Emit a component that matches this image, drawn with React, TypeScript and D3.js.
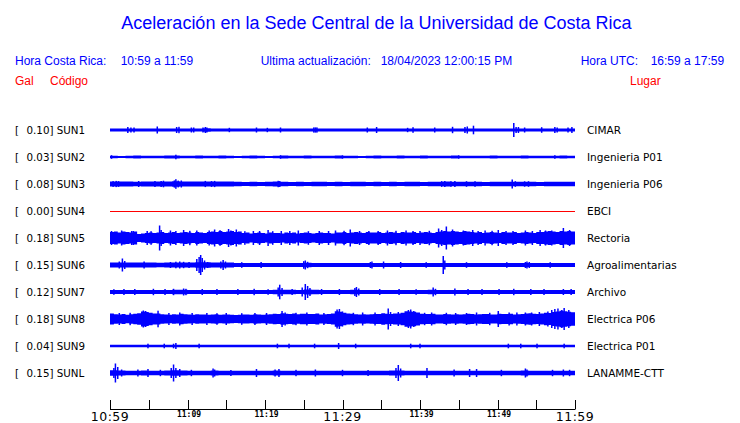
import React from "react";
import * as d3 from "d3";

const stations = ["SUN1", "SUN2", "SUN3", "SUN4", "SUN5", "SUN6", "SUN7", "SUN8", "SUN9", "SUNL"];
const places = ["CIMAR", "Ingenieria P01", "Ingenieria P06", "EBCI", "Rectoria", "Agroalimentarias", "Archivo", "Electrica P06", "Electrica P01", "LANAMME-CTT"];
const peakGal = ["0.10", "0.03", "0.08", "0.00", "0.18", "0.15", "0.12", "0.18", "0.04", "0.15"];
const traceColors = ["#0000ff", "#0000ff", "#0000ff", "#ff0000", "#0000ff", "#0000ff", "#0000ff", "#0000ff", "#0000ff", "#0000ff"];
const tickLabels = ["10:59", "11:09", "11:19", "11:29", "11:39", "11:49", "11:59"];
const bigLabel = [true, false, false, true, false, false, true];

// envelope (half amplitude) over the hour, relative units (evenly spaced samples)
const env1 = [1.5,1.5,1.6,1.5,1.5,1.5,1.6,1.5,1.5,1.5,1.5,1.5,1.7,1.5,1.5,1.5,1.5,1.5,1.5,1.5,1.5,1.5,1.5,1.5,1.5,1.5,1.6,1.5,1.5,1.5,1.5,1.5,1.5,1.5,1.5,1.5,1.5,1.5,1.5,1.5,1.5,1.5,1.5,1.5,1.5,1.5,1.5,1.5,1.5,1.5,1.5,1.5,1.5,1.5,1.5,1.5,1.5,1.5,1.5,1.5];
const env2 = [1.3,1.1,1.3,1.4,1.2,1.3,1.3,1.4,1.5,1.3,1.2,1.4,1.3,1.2,1.4,1.3,0.9,1.2,1.4,1.3,1.1,1.3,1.4,1.3,1.2,1.4,1.3,1.3,1.2,1.4,1.3,1.2,1.1,1.3,1.4,1.3,1.2,1.4,1.3,1.3,1.4,1.3,1.2,1.3,1.4,1.3,1.2,1.3,1.3,1.4,1.3,1.3,1.2,1.4,1.3,1.3,1.2,1.3,1.4,1.3];
const env3 = [2.6,2.4,2.5,2.3,2.5,2.4,2.6,2.5,2.7,2.6,2.4,2.5,2.6,2.6,2.4,2.5,2.2,2.1,2.2,2.1,2.2,2.4,2.2,2.1,2.2,2.1,2.2,2.2,2.1,2.2,2.1,2.2,2.2,2.1,2.2,2.1,2.2,2.1,2.2,2.2,2.1,2.2,2.3,2.4,2.3,2.2,2.3,2.2,2.1,2.2,2.2,2.3,2.2,2.3,2.2,2.1,2.2,2.2,2.3,2.2];
const env4 = [0,0,0,0,0,0,0,0,0,0,0,0,0,0,0,0,0,0,0,0,0,0,0,0,0,0,0,0,0,0,0,0,0,0,0,0,0,0,0,0,0,0,0,0,0,0,0,0,0,0,0,0,0,0,0,0,0,0,0,0];
const env5 = [6,6.5,5.5,6.5,6,5.5,6.5,4,4.5,5,5.5,5,5.5,6,5,5.5,6,5,5.5,6,5.5,5,6,5.5,5,6,6.5,6,7,6,6.5,7,6,6.5,5,5.5,4.5,5,5.5,5,4.5,5.5,5,5,4.5,5.5,5,5.5,4.5,5,5.5,5,4.5,5,5.5,5,5,4.5,5.5,5.5,6,5,5.5,6,5.5,5,6,5.5,5.5,6,5,5.5,6,5.5,5,6,5.5,5.5,6,5,5.5,6,5.5,5,6,6.5,7,6.5,7,6.5,6,7,6.5,6,5.5,6,5,5.5,6,5.5,5,6,5.5,5.5,6,5,5.5,6,5.5,5,6,6,6.5,7,6.5,6,7,6.5,7,6.5];
const env6 = [2.4,2.6,2.4,2.5,2.4,2.4,2.3,2.4,2.5,2.6,2.5,2.7,2.8,2.5,2.4,2.5,2.1,2,2,2,2,2,2,2,2,2.2,2,2,2,2,2,2,2,2.1,2.1,2,2,2,2,2,2,2,2,2.1,2,2,2,2,2,2,2,2,2,2.1,2,2,2,2,2,2];
const env7 = [2,2,2,2,2,2,2,2,2.2,2.3,2.1,2,2,2,2,2,2,2,2,2,2,2.2,2.3,2.2,2.1,2.5,2.2,2.1,2,2,2,2.2,2,2,2,2,2,2,2,2,2,2.2,2,2,2.1,2,2,2,2,2,2,2,2,2,2,2,2,2,2,2];
const env8 = [5.5,4.8,4.5,5,4.2,4.8,5.3,5.8,7.5,7,6.3,5.5,5.5,4.8,4.5,4.2,4.8,4.4,5.2,4.8,4.5,4.3,4.7,4.4,4.6,4.2,4.5,4.8,4.3,4.6,4.5,4.2,4,4.3,4.6,4.4,4.2,4.7,4.5,4.3,4.4,4.8,5.2,5,5.8,5.3,5,5.4,4.8,5.2,5.3,4.9,5,5.4,4.5,4.8,5,5.6,7.8,7.2,6.2,5.5,5.2,4.8,4.5,4.7,4.4,4.8,5.1,4.9,5.8,5.3,5,5.4,5.6,6.2,7.8,7.4,7.2,6.5,5.2,4.9,5,5.3,4.6,4.4,5.1,4.8,4.5,4.8,4.4,4.7,5.2,4.9,4.5,4.8,5.1,5,4.6,4.4,5.2,5,4.9,5.3,4.5,4.7,5.1,5.4,5.7,5.3,5,5.4,6.2,6,7,7.4,8.2,7.8,7.2,6.8];
const env9 = [1.3,1.3,1.3,1.3,1.3,1.3,1.3,1.3,1.3,1.3,1.3,1.3,1.3,1.3,1.3,1.3,1.3,1.3,1.3,1.3,1.3,1.3,1.3,1.3,1.3,1.3,1.3,1.3,1.3,1.3,1.3,1.3,1.3,1.3,1.3,1.3,1.3,1.3,1.3,1.3,1.3,1.3,1.3,1.3,1.3,1.3,1.3,1.3,1.3,1.3,1.3,1.3,1.3,1.3,1.3,1.3,1.3,1.3,1.3,1.3];
const envL = [2.8,2.5,2.3,2.3,2.4,2.3,2.3,2.4,2.8,2.4,2.3,2.3,2.3,2.4,2.3,2.3,2.3,2.3,2.3,2.3,2.3,2.4,2.3,2.3,2.3,2.3,2.3,2.3,2.3,2.3,2.3,2.3,2.3,2.3,2.3,2.3,2.4,2.6,2.3,2.3,2.3,2.3,2.3,2.3,2.3,2.3,2.3,2.3,2.3,2.3,2.3,2.3,2.3,2.4,2.3,2.3,2.3,2.3,2.3,2.3];

// [minute, half amplitude] for isolated bursts
const peaks1 = [[2.3,3],[2.7,2.5],[3.1,2.5],[6.1,3.5],[8.6,3],[8.9,3.2],[10.5,2.5],[10.8,2.5],[12.0,2.5],[12.3,3],[12.5,2.5],[15.4,2.2],[18.9,2.5],[20.3,2.2],[22.0,2.5],[26.3,2.6],[26.5,2.6],[26.7,2.6],[33.2,2.5],[34.4,3],[38.4,2.2],[39.1,2.8],[41.9,2.5],[44.2,3.2],[45.8,3],[46.1,3.5],[46.9,4.3],[52.1,7],[52.4,3],[52.7,3],[53.5,2.5],[55.7,2.8],[57.4,3],[57.7,2.5],[59.1,2.5],[59.6,3]];
const peaks2 = [[8.5,2.3],[0.2,1.8],[22,1.8],[30,1.7],[45,1.7],[57.4,1.8]];
const peaks3 = [[0.4,2.9],[0.8,3.1],[1.1,2.9],[3.7,3],[5.8,3],[6.6,3.0],[6.9,3.3],[8.3,3.6],[8.5,4.8],[8.8,3.4],[9.2,3.5],[12.3,3.1],[13.1,2.9],[13.5,3.1],[21.7,3.2],[21.9,2.9],[42.8,2.9],[43.2,3.0],[44.0,2.8],[44.5,3.0],[46.0,2.8],[47.1,2.8],[51.9,4.5],[52.3,2.8],[53.5,2.7],[54.0,2.8]];
const peaks4 = [];
const peaks5 = [[0.2,7],[1.5,7.5],[2.8,7],[3.0,7],[4.8,7],[5.3,6.8],[6.4,12.5],[6.6,8],[7.8,7.5],[8.5,7],[9.5,8],[10.3,7.2],[11.2,7.5],[12.8,7.5],[13.5,8.5],[14.2,7.8],[15.3,9],[15.6,7.5],[16.3,8.5],[17.4,6.8],[18.5,7],[19.3,7],[20.4,8],[21.0,6.8],[22.1,7],[23.2,7],[24.3,7.5],[25.6,6.8],[27.0,7],[28.2,7],[29.1,7.5],[30.2,7.2],[31.0,8.5],[32.2,7],[33.4,7],[34.6,7],[35.8,7.5],[36.9,7.2],[38.2,7.5],[39.1,7],[40.0,7],[41.2,7.2],[42.4,9.5],[42.8,8],[43.4,11.5],[44.2,8.5],[45.6,7.5],[46.8,8],[47.5,7],[48.4,7.5],[49.3,7.2],[50.1,8],[51.1,7],[52.0,7],[53.6,7.5],[54.5,7],[55.5,8],[56.2,7.5],[57.0,7.5],[58.5,10],[59.3,8]];
const peaks6 = [[1.2,3.5],[1.6,6.5],[1.9,4],[4.4,3.5],[7.8,3],[8.5,3.3],[9.0,3.5],[9.5,3.2],[10.2,3],[11.2,6],[11.5,8],[11.7,10],[11.9,7],[12.2,4.5],[12.6,3],[14.3,3.5],[14.6,5],[14.9,3.5],[17.0,2.8],[19.5,3],[25.0,3.8],[25.2,4.5],[25.5,3.2],[33.6,3],[33.8,3.5],[35.3,3.5],[37.5,3],[40.8,2.8],[43.0,9],[43.2,4.5],[46,2.8],[51.2,2.8],[53.6,3],[53.8,3.5],[54.1,3],[56.8,2.8]];
const peaks7 = [[0.5,2.8],[1.8,3],[3.2,3],[5.6,3.2],[7.1,3],[8.2,3.2],[9.5,3.5],[9.8,3.2],[11.9,3],[13.8,3],[16.5,3],[18.6,3.2],[20.4,2.8],[21.7,4.5],[21.9,7.3],[22.2,4],[23.5,3],[24.8,4.5],[25.2,8],[25.5,6],[25.8,4],[27.3,3],[29.6,3],[31.6,4],[31.8,5],[32.1,3.5],[34.8,3],[37.3,3],[39.5,2.8],[41.7,4.5],[42.0,3.2],[44.5,3.5],[46.2,3],[48.0,3],[50.2,3],[52.1,3.2],[54.3,3],[56.0,3],[58.5,3],[59.5,3]];
const peaks8 = [[1.2,6],[2.6,6.2],[4.3,8.5],[4.6,8],[6.2,8.3],[7.6,6],[9.0,6.5],[10.6,6],[12.5,6],[13.8,5.8],[15.0,6],[17.0,5.8],[18.7,6],[20.2,6],[22.2,8],[22.6,6.5],[24.0,6.2],[25.4,6.5],[27.6,6],[29.3,9.5],[29.6,10],[30.0,7.5],[31.4,6.2],[32.6,6.5],[34.2,6.5],[35.9,10.5],[36.2,7],[37.2,7],[38.5,9],[38.8,9.5],[39.2,8],[40.6,6.2],[41.5,6.5],[43.4,6.2],[44.6,6],[46.0,6],[47.3,6.5],[49.0,6.2],[50.1,8],[51.5,6.5],[52.5,6.5],[53.6,6.5],[54.4,6.5],[55.4,7],[56.5,7.5],[57.0,9],[57.4,10],[57.8,10.5],[58.3,9],[58.6,11],[59.2,9]];
const peaks9 = [[4.9,2.3],[7.0,2.3],[8.2,2.3],[8.5,3],[11.5,2.3],[21.6,2.3],[23.1,2.3],[26.4,2.3],[29.5,3],[31.7,2.3],[38.8,2.3],[40.0,2.3],[51.4,2.3],[53.0,2.3],[55.1,2.3],[58.6,2.3]];
const peaksL = [[0.7,9.5],[0.5,5],[1.0,6],[1.5,3.5],[3.6,3.5],[4.9,4],[6.5,3.2],[7.9,5],[8.2,8.5],[8.5,5],[9.0,4],[10.5,3.2],[13.3,4.5],[13.5,3.5],[15.6,3],[18.9,4],[21.3,3.5],[21.8,4],[24.0,3.2],[26.5,3.5],[30.0,3.2],[33.3,3],[36.9,5],[37.2,8],[37.5,4.5],[40.9,5],[44.4,3.5],[46.4,4],[47.3,4],[50.5,3.2],[53.6,4.5],[53.8,3.5],[57.1,3.2],[58.5,3.5],[59.3,3.2]];

const envelopes = [env1, env2, env3, env4, env5, env6, env7, env8, env9, envL];
const peaks = [peaks1, peaks2, peaks3, peaks4, peaks5, peaks6, peaks7, peaks8, peaks9, peaksL];

const W = 740, H = 423;
const BLUE = "#0000ff", RED = "#ff0000";
const SANS = "'Liberation Sans', Arial, Helvetica, sans-serif";
const DJ = "'DejaVu Sans', sans-serif";

export default function App() {
  const x = d3.scaleLinear().domain([0, 60]).range([110, 575]);
  const row = d3.scaleLinear().domain([0, 9]).range([130, 373]);
  const amp = d3.scaleLinear().domain([0, 1]).range([0, 1]);

  const ticks = d3.range(0, 61, 5);

  return (
    <svg width={W} height={H} style={{ position: "absolute", left: 0, top: 0, background: "#fff" }}>
      <text x={376.5} y={29} textAnchor="middle" fontFamily={SANS} fontSize={18} fill={BLUE}>
        Aceleración en la Sede Central de la Universidad de Costa Rica
      </text>
      <g fontFamily={SANS} fontSize={12} fill={BLUE}>
        <text x={15} y={65}>Hora Costa Rica:</text>
        <text x={120.7} y={65}>10:59 a 11:59</text>
        <text x={260.7} y={65}>Ultima actualización:</text>
        <text x={380.7} y={65}>18/04/2023 12:00:15 PM</text>
        <text x={580.7} y={65}>Hora UTC:</text>
        <text x={650.7} y={65}>16:59 a 17:59</text>
      </g>
      <g fontFamily={SANS} fontSize={12} fill={RED}>
        <text x={15} y={85}>Gal</text>
        <text x={50} y={85}>Código</text>
        <text x={630} y={85}>Lugar</text>
      </g>

      {stations.map((s, i) => {
        const cy = row(i);
        const env = envelopes[i];
        const n = env.length;
        const data = env.concat([env[n - 1]]);
        const area = d3
          .area<number>()
          .x((_, j) => x((j * 60) / n))
          .y0((d) => cy - amp(d))
          .y1((d) => cy + amp(d))
          .curve(d3.curveStepAfter);
        return (
          <g key={s}>
            <text x={15} y={cy + 4} fontFamily={DJ} fontSize={10.3} fill="#000">[</text>
            <text x={26.5} y={cy + 4} fontFamily={DJ} fontSize={10.3} fill="#000">{peakGal[i]}] {s}</text>
            <text x={587} y={cy + 4} fontFamily={DJ} fontSize={10.5} fill="#000">{places[i]}</text>
            {i === 3 ? (
              <line x1={x(0)} x2={x(60)} y1={cy + 0.5} y2={cy + 0.5} stroke={traceColors[i]} strokeWidth={1} />
            ) : (
              <path d={area(data) || ""} fill={traceColors[i]} />
            )}
            {peaks[i].map((p, k) => (
              <rect key={k} x={x(p[0]) - 0.75} width={1.5} y={cy - amp(p[1])} height={2 * amp(p[1])} fill={traceColors[i]} />
            ))}
          </g>
        );
      })}

      <g stroke="#000" strokeWidth={1}>
        <line x1={x(0)} x2={x(60)} y1={409.5} y2={409.5} />
        {ticks.map((t) => (
          <line key={t} x1={Math.round(x(t)) + 0.5} x2={Math.round(x(t)) + 0.5} y1={400} y2={409.5} />
        ))}
      </g>
      {tickLabels.map((lab, k) => {
        const tx = x(k * 10);
        return bigLabel[k] ? (
          <text key={lab} x={tx} y={420.5} textAnchor="middle" fontFamily={DJ} fontSize={12.5} letterSpacing={0.5} fill="#000">{lab}</text>
        ) : (
          <text key={lab} x={tx + 1.5} y={417} textAnchor="middle" fontFamily="'DejaVu Sans Mono', monospace" fontSize={8} fontWeight="bold" fill="#000">{lab}</text>
        );
      })}
    </svg>
  );
}
